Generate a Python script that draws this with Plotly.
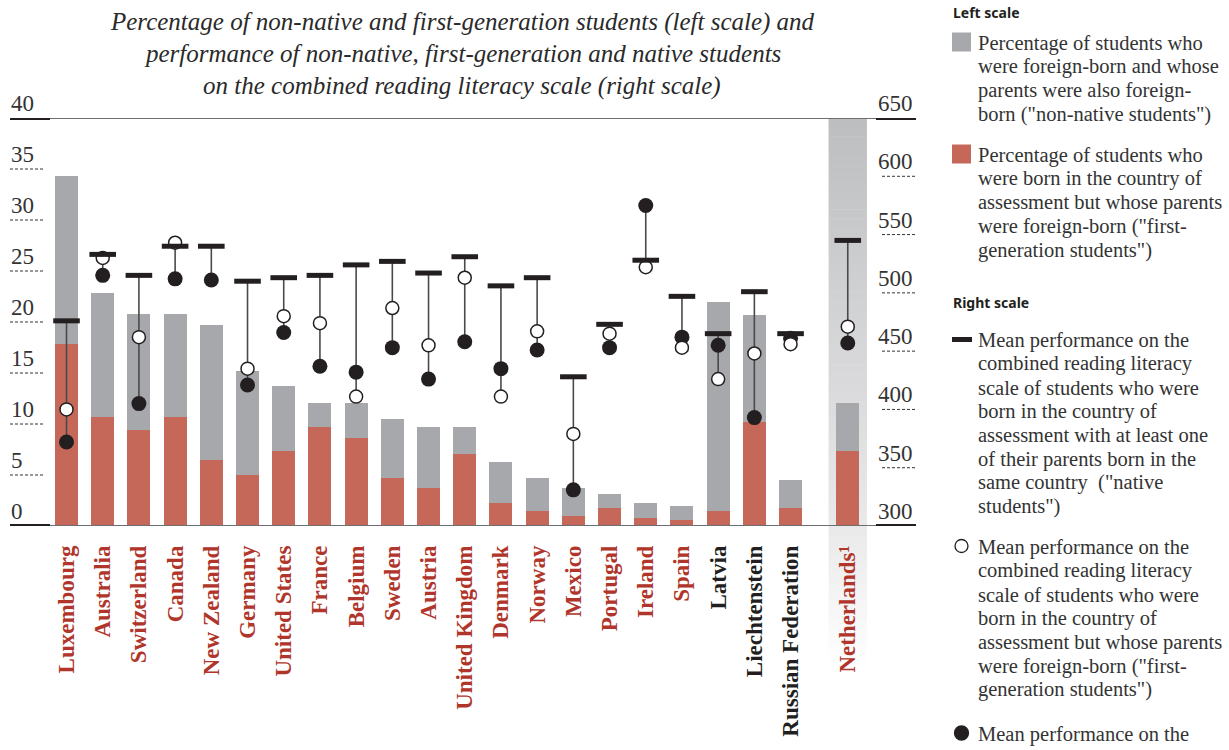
import plotly.graph_objects as go

# ---- data -------------------------------------------------------------
countries = ["Luxembourg", "Australia", "Switzerland", "Canada", "New Zealand",
             "Germany", "United States", "France", "Belgium", "Sweden", "Austria",
             "United Kingdom", "Denmark", "Norway", "Mexico", "Portugal", "Ireland",
             "Spain", "Latvia", "Liechtenstein", "Russian Federation", "Netherlands¹"]
oecd_member = [True] * 18 + [False, False, False, True]

# left scale: percentages of students
first_gen_pct = [17.8, 10.7, 9.4, 10.7, 6.5, 5.0, 7.4, 9.7, 8.6, 4.7, 3.7,
                 7.1, 2.3, 1.5, 1.0, 1.8, 0.8, 0.6, 1.5, 10.2, 1.8, 7.4]
non_native_pct = [16.5, 12.1, 11.4, 10.1, 13.2, 10.2, 6.3, 2.4, 3.5, 5.8, 6.0,
                  2.6, 4.0, 3.2, 2.7, 1.3, 1.5, 1.4, 20.5, 10.5, 2.7, 4.7]

# right scale: mean reading literacy scores
native_score = [476, 533, 515, 540, 540, 510, 513, 515, 524, 527, 517,
                531, 506, 513, 428, 473, 528, 497, 465, 501, 465, 545]
first_gen_score = [400, 530, 462, 543, None, 435, 480, 474, 411, 487, 455,
                   513, 411, 467, 379, 465, 522, 453, 426, 448, 456, 471]
non_native_score = [372, 515, 405, 512, 511, 421, 466, 437, 432, 453, 426,
                    458, 435, 451, 331, 453, 575, 462, 455, 393, 461, 457]

left_ticks = [0, 5, 10, 15, 20, 25, 30, 35, 40]
right_ticks = [300, 350, 400, 450, 500, 550, 600, 650]

title_lines = [
    "Percentage of non-native and first-generation students (left scale) and",
    "performance of non-native, first-generation and native students",
    "on the combined reading literacy scale (right scale)",
]
legend_left_head = "Left scale"
legend_right_head = "Right scale"
legend_items = [
    ("gray", ["Percentage of students who", "were foreign-born and whose",
              "parents were also foreign-", "born (\"non-native students\")"]),
    ("red", ["Percentage of students who", "were born in the country of",
             "assessment but whose parents", "were foreign-born (\"first-",
             "generation students\")"]),
    ("dash", ["Mean performance on the", "combined reading literacy",
              "scale of students who were", "born in the country of",
              "assessment with at least one", "of their parents born in the",
              "same country  (\"native", "students\")"]),
    ("open", ["Mean performance on the", "combined reading literacy",
              "scale of students who were", "born in the country of",
              "assessment but whose parents", "were foreign-born (\"first-",
              "generation students\")"]),
    ("filled", ["Mean performance on the", "combined reading literacy"]),
]

# ---- styling ----------------------------------------------------------
GRAY = "#a7a8ab"
RED = "#c5685a"
INK = "#231f20"
LABEL_RED = "#b0352b"
SERIF = "Liberation Serif"
SANS = "Noto Sans"

W, H = 1229, 750
L, R_EDGE, TOP, BOT = 50, 876, 118, 526
PW, PH = R_EDGE - L, BOT - TOP

# category positions; the Netherlands sits apart from the others
pos = list(range(len(countries) - 1)) + [21.58]
XMIN, XMAX = -0.456, 22.36


def px_x(px):
    return (px - L) / PW


def px_y(py):
    return (BOT - py) / PH


def data_x(x):
    return (x - XMIN) / (XMAX - XMIN)


fig = go.Figure()

fig.add_trace(go.Bar(x=pos, y=first_gen_pct, width=0.635, marker_color=RED,
                     marker_line_width=0, hoverinfo="skip"))
fig.add_trace(go.Bar(x=pos, y=non_native_pct, width=0.635, marker_color=GRAY,
                     marker_line_width=0, hoverinfo="skip"))

# vertical connector spanning the three scores of each country
lx, ly = [], []
for p, a, b, c in zip(pos, native_score, first_gen_score, non_native_score):
    vals = [v for v in (a, b, c) if v is not None]
    lx += [p, p, None]
    ly += [min(vals), max(vals), None]
fig.add_trace(go.Scatter(x=lx, y=ly, yaxis="y2", mode="lines",
                         line=dict(color="#4a4a4a", width=1.6), hoverinfo="skip"))

fig.add_trace(go.Scatter(x=pos, y=non_native_score, yaxis="y2", mode="markers",
                         marker=dict(size=15, color=INK, line=dict(width=0))))
fig.add_trace(go.Scatter(x=pos, y=first_gen_score, yaxis="y2", mode="markers",
                         marker=dict(size=13, color="white",
                                     line=dict(width=1.5, color=INK))))
fig.add_trace(go.Scatter(x=pos, y=native_score, yaxis="y2", mode="markers",
                         marker=dict(symbol="line-ew", size=19,
                                     line=dict(width=5, color=INK))))

shapes = []
annotations = []

# shaded column behind the Netherlands, fading out below the axis
nl = pos[-1]
bx0, bx1 = data_x(nl - 0.53), data_x(nl + 0.53)
stops = [(118, (189, 190, 192)), (526, (233, 233, 234)), (665, (255, 255, 255))]
n_strip = 60
for i in range(n_strip):
    y0 = 118 + (665 - 118) * i / n_strip
    y1 = 118 + (665 - 118) * (i + 1) / n_strip
    ym = (y0 + y1) / 2
    for (ya, ca), (yb, cb) in zip(stops[:-1], stops[1:]):
        if ya <= ym <= yb:
            t = (ym - ya) / (yb - ya)
            col = tuple(round(ca[k] + (cb[k] - ca[k]) * t) for k in range(3))
            break
    shapes.append(dict(type="rect", xref="paper", yref="paper", layer="below",
                       x0=bx0, x1=bx1, y0=px_y(y1 + 0.5), y1=px_y(y0),
                       fillcolor="rgb(%d,%d,%d)" % col, line_width=0))

# top and bottom frame lines
for v in (0, 40):
    shapes.append(dict(type="line", xref="paper", yref="y", x0=0, x1=1, y0=v, y1=v,
                       line=dict(color="#6d6e71", width=1.8)))

# left scale ticks and labels
for v in left_ticks:
    if v in (0, 40):
        shapes.append(dict(type="line", xref="paper", yref="y", x0=px_x(10), x1=0,
                           y0=v, y1=v, line=dict(color=INK, width=4)))
    else:
        shapes.append(dict(type="line", xref="paper", yref="y", x0=px_x(10), x1=px_x(45),
                           y0=v, y1=v, line=dict(color="#333", width=1, dash="3px,2px")))
    annotations.append(dict(x=px_x(9), y=v, xref="paper", yref="y", text=str(v),
                            showarrow=False, xanchor="left", yanchor="bottom", yshift=0,
                            font=dict(family=SERIF, size=23, color="#333")))

# right scale ticks and labels
for v in right_ticks:
    if v in (300, 650):
        shapes.append(dict(type="line", xref="paper", yref="y2", x0=1, x1=px_x(916),
                           y0=v, y1=v, line=dict(color=INK, width=4)))
    else:
        shapes.append(dict(type="line", xref="paper", yref="y2", x0=px_x(882), x1=px_x(916),
                           y0=v, y1=v, line=dict(color="#333", width=1, dash="3px,2px")))
    annotations.append(dict(x=px_x(876), y=v, xref="paper", yref="y2", text=str(v),
                            showarrow=False, xanchor="left", yanchor="bottom", yshift=0,
                            font=dict(family=SERIF, size=23, color="#333")))

# title
for i, line in enumerate(title_lines):
    annotations.append(dict(x=px_x(462), y=px_y(22 + 32 * i), xref="paper", yref="paper",
                            text="<i>" + line + "</i>", showarrow=False,
                            xanchor="center", yanchor="middle",
                            font=dict(family=SERIF, size=25, color="#2a2a2a")))

# legend
TX = px_x(976)
annotations.append(dict(x=px_x(951), y=px_y(12), xref="paper", yref="paper",
                        text="<b>" + legend_left_head + "</b>", showarrow=False,
                        xanchor="left", yanchor="middle",
                        font=dict(family=SANS, size=14, color=INK)))
annotations.append(dict(x=px_x(951), y=px_y(302), xref="paper", yref="paper",
                        text="<b>" + legend_right_head + "</b>", showarrow=False,
                        xanchor="left", yanchor="middle",
                        font=dict(family=SANS, size=14, color=INK)))
item_tops = [43, 155, 340, 547, 734]
for (kind, lines), y_first in zip(legend_items, item_tops):
    for j, line in enumerate(lines):
        annotations.append(dict(x=TX, y=px_y(y_first + 23.8 * j), xref="paper", yref="paper",
                                text=line, showarrow=False, xanchor="left", yanchor="middle",
                                font=dict(family=SERIF, size=20.5, color="#333")))
    cy = y_first - 1
    if kind in ("gray", "red"):
        shapes.append(dict(type="rect", xref="paper", yref="paper",
                           x0=px_x(952), x1=px_x(971), y0=px_y(cy + 9.5), y1=px_y(cy - 9.5),
                           fillcolor=GRAY if kind == "gray" else RED, line_width=0))
    elif kind == "dash":
        shapes.append(dict(type="rect", xref="paper", yref="paper",
                           x0=px_x(952), x1=px_x(972), y0=px_y(cy + 3), y1=px_y(cy - 2),
                           fillcolor=INK, line_width=0))
    else:
        r = 6.5 if kind == "open" else 7
        shapes.append(dict(type="circle", xref="paper", yref="paper",
                           x0=px_x(961.5 - r), x1=px_x(961.5 + r),
                           y0=px_y(cy + r), y1=px_y(cy - r),
                           fillcolor="white" if kind == "open" else INK,
                           line=dict(color=INK, width=1.3)))

ticktext = []
for name, member in zip(countries, oecd_member):
    col = LABEL_RED if member else INK
    ticktext.append('<span style="color:%s"><b>%s</b></span>' % (col, name))

fig.update_layout(
    width=W, height=H,
    margin=dict(l=L, r=W - R_EDGE, t=TOP, b=H - BOT, pad=0),
    paper_bgcolor="white", plot_bgcolor="rgba(0,0,0,0)",
    barmode="stack", bargap=0, showlegend=False,
    xaxis=dict(range=[XMIN, XMAX], tickmode="array", tickvals=pos, ticktext=ticktext,
               tickangle=-90, ticks="", showgrid=False, zeroline=False, showline=False,
               ticklabelstandoff=14,
               tickfont=dict(family=SERIF, size=23, color=LABEL_RED)),
    yaxis=dict(range=[0, 40], showgrid=False, zeroline=False, showticklabels=False,
               showline=False, ticks=""),
    yaxis2=dict(range=[300, 650], overlaying="y", side="right", showgrid=False,
                zeroline=False, showticklabels=False, showline=False, ticks=""),
    shapes=shapes, annotations=annotations,
)

fig.write_html("out.html")
